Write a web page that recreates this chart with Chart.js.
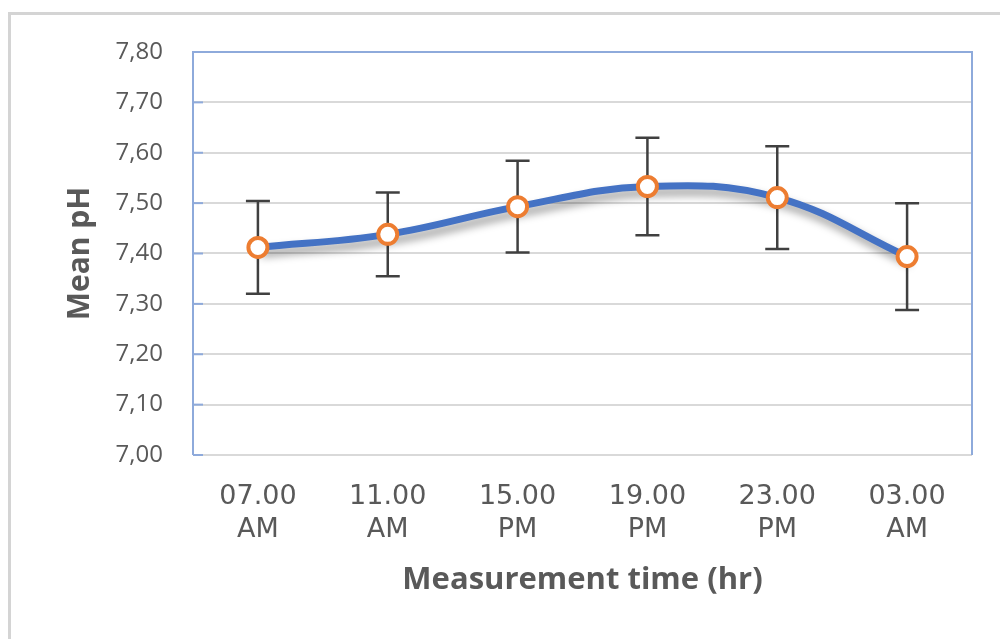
<!DOCTYPE html>
<html>
<head>
<meta charset="utf-8">
<script src="https://cdn.jsdelivr.net/npm/chart.js@4.4.1/dist/chart.umd.min.js"></script>
<style>
    html, body { margin: 0; padding: 0; background: #fff; }
    #wrap { position: relative; width: 1000px; height: 639px; overflow: hidden; }
    #frame {
        position: absolute; left: 8px; top: 12px; width: 1100px; height: 700px;
        border-top: 3px solid #d4d4d4; border-left: 3px solid #d4d4d4;
        box-sizing: border-box;
    }
    #chart { position: absolute; left: 0; top: 0; }
</style>
</head>
<body>
<div id="wrap">
    <div id="frame"></div>
    <canvas id="chart" width="1000" height="639"></canvas>
</div>
<script>
// Chart data
const timeLabels = [['07.00', 'AM'], ['11.00', 'AM'], ['15.00', 'PM'], ['19.00', 'PM'], ['23.00', 'PM'], ['03.00', 'AM']];
const meanPh = [7.412, 7.438, 7.493, 7.533, 7.511, 7.394];
const phError = [0.092, 0.083, 0.091, 0.097, 0.102, 0.106];
const yMin = 7.00;
const yMax = 7.80;

const textColor = '#595959';
const frameBlue = '#8eaadb';

/**
 * Draws the blue plot frame with inside ticks, the error bars,
 * and a drop shadow under the line only
 */
const plotDecor = {
    id: 'plotDecor',
    beforeDatasetsDraw: function(chart) {
        const ctx = chart.ctx;
        const area = chart.chartArea;
        const yScale = chart.scales.y;
        const xScale = chart.scales.x;

        // frame: left, top, right in blue
        ctx.save();
        ctx.strokeStyle = frameBlue;
        ctx.lineWidth = 2;
        ctx.beginPath();
        ctx.moveTo(area.left, area.bottom);
        ctx.lineTo(area.left, area.top);
        ctx.lineTo(area.right, area.top);
        ctx.lineTo(area.right, area.bottom);
        ctx.stroke();

        // small inside ticks on the left axis
        yScale.ticks.forEach(t => {
            const y = yScale.getPixelForValue(t.value);
            ctx.beginPath();
            ctx.moveTo(area.left, y);
            ctx.lineTo(area.left + 10, y);
            ctx.stroke();
        });

        // error bars
        ctx.strokeStyle = '#404040';
        ctx.lineWidth = 2.5;
        meanPh.forEach((v, i) => {
            const x = xScale.getPixelForValue(i);
            const yTop = yScale.getPixelForValue(v + phError[i]);
            const yBot = yScale.getPixelForValue(v - phError[i]);
            ctx.beginPath();
            ctx.moveTo(x, yTop);
            ctx.lineTo(x, yBot);
            ctx.moveTo(x - 12, yTop);
            ctx.lineTo(x + 12, yTop);
            ctx.moveTo(x - 12, yBot);
            ctx.lineTo(x + 12, yBot);
            ctx.stroke();
        });
        ctx.restore();
    },
    beforeDatasetDraw: function(chart, args) {
        const ctx = chart.ctx;
        ctx.save();
        if (args.index === 0) {
            ctx.shadowColor = 'rgba(0, 0, 0, 0.4)';
            ctx.shadowBlur = 8;
            ctx.shadowOffsetX = 3;
            ctx.shadowOffsetY = 6;
        }
    },
    afterDatasetDraw: function(chart) {
        chart.ctx.restore();
    }
};

const ctx = document.getElementById('chart').getContext('2d');

new Chart(ctx, {
    type: 'line',
    data: {
        labels: timeLabels,
        datasets: [{
            // smoothed line
            data: meanPh,
            borderColor: '#4472c4',
            borderWidth: 7,
            tension: 0.4,
            pointRadius: 0,
            order: 1
        }, {
            // markers
            data: meanPh,
            showLine: false,
            pointRadius: 9.5,
            pointBorderWidth: 4,
            pointBackgroundColor: '#ffffff',
            pointBorderColor: '#ed7d31',
            order: 0
        }]
    },
    options: {
        responsive: false,
        animation: false,
        layout: {
            padding: { left: 0, top: 52, right: 28, bottom: 0 }
        },
        plugins: {
            legend: { display: false },
            tooltip: { enabled: false }
        },
        scales: {
            x: {
                offset: true,
                grid: { display: false },
                border: { display: false },
                ticks: {
                    color: textColor,
                    padding: 18,
                    maxRotation: 0,
                    font: { family: 'DejaVu Sans', size: 27, lineHeight: 1.22 }
                },
                title: {
                    display: true,
                    text: 'Measurement time (hr)',
                    color: textColor,
                    font: { family: 'Open Sans', size: 31, weight: 'bold' },
                    padding: { top: 0, bottom: 40 }
                },
                afterFit: function(scale) {
                    scale.height = 184;
                }
            },
            y: {
                min: yMin,
                max: yMax,
                grid: {
                    color: '#d9d9d9',
                    lineWidth: 2,
                    drawTicks: false
                },
                border: { display: false },
                ticks: {
                    stepSize: 0.1,
                    color: textColor,
                    padding: 30,
                    font: { family: 'Open Sans', size: 24 },
                    callback: function(value) {
                        return value.toFixed(2).replace('.', ',');
                    }
                },
                title: {
                    display: true,
                    text: 'Mean pH',
                    color: textColor,
                    font: { family: 'Open Sans', size: 30, weight: 'bold' },
                    padding: { top: 62, bottom: 0 }
                },
                afterFit: function(scale) {
                    scale.width = 193;
                }
            }
        }
    },
    plugins: [plotDecor]
});
</script>
</body>
</html>
